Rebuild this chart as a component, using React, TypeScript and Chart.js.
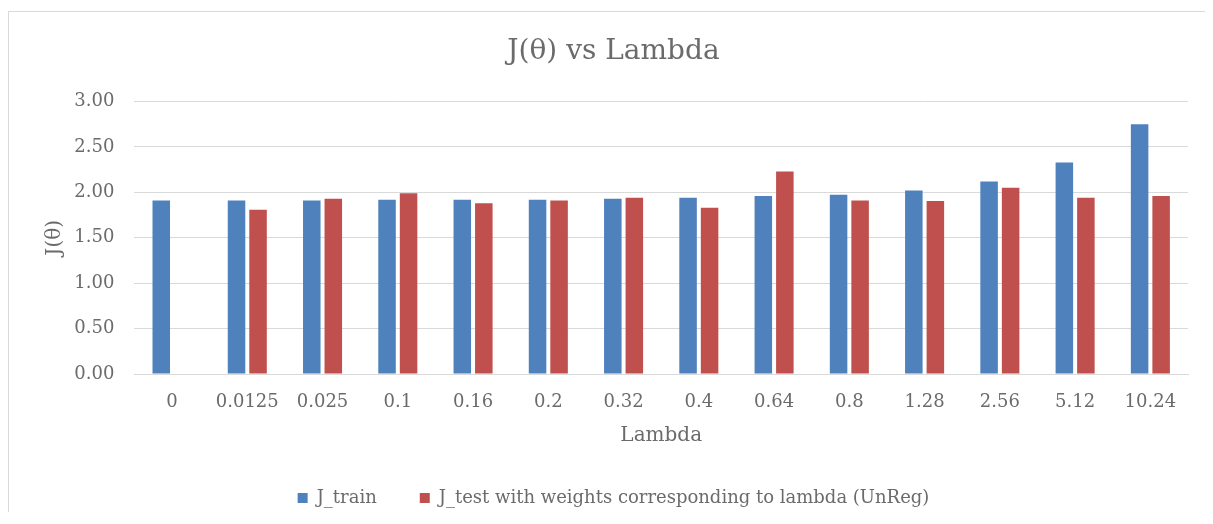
import React, { useEffect, useRef } from "react";
import { Chart, registerables } from "chart.js";

Chart.register(...registerables);

const categories = ["0", "0.0125", "0.025", "0.1", "0.16", "0.2", "0.32", "0.4", "0.64", "0.8", "1.28", "2.56", "5.12", "10.24"];
const jTrain = [1.91, 1.91, 1.91, 1.92, 1.92, 1.92, 1.93, 1.94, 1.96, 1.975, 2.02, 2.12, 2.33, 2.75];
const jTest = [null, 1.81, 1.93, 1.99, 1.88, 1.91, 1.94, 1.83, 2.23, 1.91, 1.905, 2.05, 1.94, 1.96];
const seriesNames = ["J_train", "J_test with weights corresponding to lambda (UnReg)"];

const FONT = "'DejaVu Serif', serif";
const TEXT = "#6b6b6b";
const GRID = "#d9d9d9";
const W = 1196;
const H = 500;

export default function App() {
  const ref = useRef<HTMLCanvasElement | null>(null);

  useEffect(() => {
    if (!ref.current) return;
    Chart.defaults.font.family = FONT;
    const chart = new Chart(ref.current, {
      type: "bar",
      data: {
        labels: categories,
        datasets: [
          {
            label: seriesNames[0],
            data: jTrain,
            backgroundColor: "#4F81BD",
            categoryPercentage: 0.572,
            barPercentage: 0.814,
          },
          {
            label: seriesNames[1],
            data: jTest as any,
            backgroundColor: "#C0504D",
            categoryPercentage: 0.572,
            barPercentage: 0.814,
          },
        ],
      },
      options: {
        responsive: false,
        animation: false,
        layout: { padding: { left: 30, right: 17, top: 0, bottom: -5 } },
        plugins: {
          title: {
            display: true,
            text: "J(θ) vs Lambda",
            color: TEXT,
            font: { size: 28, weight: "normal", family: FONT },
            padding: { top: 23, bottom: 33 },
          },
          legend: {
            position: "bottom",
            labels: {
              color: TEXT,
              font: { size: 18, family: FONT },
              boxWidth: 10,
              boxHeight: 10,
              padding: 43,
            },
          },
          tooltip: { enabled: false },
        },
        scales: {
          x: {
            grid: { display: false, drawTicks: false },
            border: { display: true, color: GRID, width: 1 },
            ticks: { color: TEXT, font: { size: 18, family: FONT }, padding: 18, maxRotation: 0, autoSkip: false },
            title: { display: true, text: "Lambda", color: TEXT, font: { size: 20, family: FONT }, padding: { top: 0, bottom: -2 } },
            afterFit: (s: any) => { s.height = 72; },
          },
          y: {
            min: 0,
            max: 3,
            ticks: {
              stepSize: 0.5,
              color: TEXT,
              font: { size: 18, family: FONT },
              padding: 20,
              callback: (v: any) => Number(v).toFixed(2),
            },
            grid: { color: GRID, lineWidth: 1, drawTicks: false },
            border: { display: false },
            title: { display: true, text: "J(θ)", color: TEXT, font: { size: 20, family: FONT }, padding: { top: 4, bottom: 4 } },
            afterFit: (s: any) => { s.width = 95.4; },
          },
        },
      },
    });
    return () => chart.destroy();
  }, []);

  return (
    <div style={{ paddingTop: 3 }}>
      <div style={{ borderTop: `1px solid ${GRID}`, borderLeft: `1px solid ${GRID}`, width: W, height: H }}>
        <canvas ref={ref} width={W} height={H} style={{ display: "block", width: W, height: H }} />
      </div>
    </div>
  );
}
